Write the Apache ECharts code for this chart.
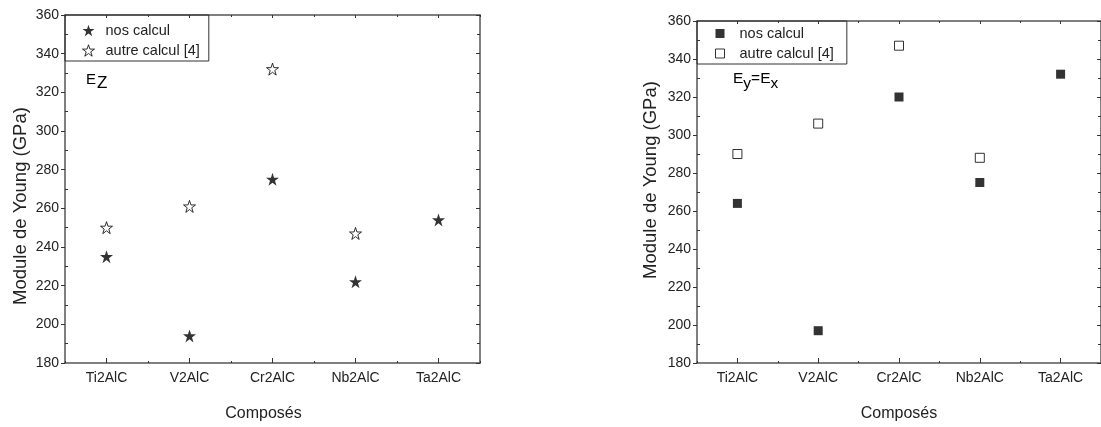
<!DOCTYPE html>
<html>
<head>
<meta charset="utf-8">
<title>Module de Young</title>
<script src="https://cdn.jsdelivr.net/npm/echarts@6/dist/echarts.min.js"></script>
<style>
  html, body { margin: 0; padding: 0; background: #fff; }
  #chart { width: 1101px; height: 427px; }
</style>
</head>
<body>
<div id="chart"></div>
<script>
// composés
const categories = ['Ti2AlC', 'V2AlC', 'Cr2AlC', 'Nb2AlC', 'Ta2AlC'];
// E_Z (GPa)
const ezNos = [235, 194, 275, 222, 254];
const ezAutre = [250, 261, 332, 247, null];
// E_y = E_x (GPa)
const eyNos = [264, 197, 320, 275, 332];
const eyAutre = [290, 306, 347, 288, null];
// axe y
const yMin = 180;
const yMax = 360;
const yStep = 20;

const FONT = 'Liberation Sans, Arial, sans-serif';
const AXIS = '#555';
const STAR = 'path://M12,0 L14.9,8.6 L24,8.6 L16.6,14 L19.4,22.8 L12,17.4 L4.6,22.8 L7.4,14 L0,8.6 L9.1,8.6 Z';

function xAxes(g, namePad) {
  const base = { type: 'category', data: categories, gridIndex: g, boundaryGap: true, splitLine: { show: false } };
  return [
    Object.assign({}, base, {
      position: 'bottom',
      name: 'Composés',
      nameLocation: 'middle',
      nameGap: 43,
      nameTextStyle: { fontFamily: FONT, fontSize: 16, color: '#222', padding: namePad },
      axisLine: { show: true, lineStyle: { color: AXIS, width: 1.5 } },
      axisTick: { show: true, alignWithLabel: true, inside: true, length: 5, lineStyle: { color: '#333' } },
      axisLabel: { fontFamily: FONT, fontSize: 14, color: '#222', margin: 8 }
    }),
    Object.assign({}, base, {
      position: 'bottom',
      axisLine: { show: false },
      axisTick: { show: true, inside: true, length: 2, lineStyle: { color: '#333' } },
      axisLabel: { show: false }
    }),
    Object.assign({}, base, {
      position: 'top',
      axisLine: { show: true, lineStyle: { color: AXIS, width: 1.5 } },
      axisTick: { show: true, alignWithLabel: true, inside: true, length: 3, lineStyle: { color: '#333' } },
      axisLabel: { show: false }
    }),
    Object.assign({}, base, {
      position: 'top',
      axisLine: { show: false },
      axisTick: { show: true, inside: true, length: 2, lineStyle: { color: '#333' } },
      axisLabel: { show: false }
    })
  ];
}

function yAxes(g, gap, namePad) {
  const base = { type: 'value', gridIndex: g, min: yMin, max: yMax, interval: yStep, splitLine: { show: false } };
  return [
    Object.assign({}, base, {
      position: 'left',
      name: 'Module de Young (GPa)',
      nameLocation: 'middle',
      nameGap: gap,
      nameTextStyle: { fontFamily: FONT, fontSize: 18.5, color: '#222', padding: namePad },
      axisLine: { show: true, lineStyle: { color: AXIS, width: 1.5 } },
      axisTick: { show: true, inside: false, length: 4, lineStyle: { color: '#333' } },
      axisLabel: { fontFamily: FONT, fontSize: 14, color: '#222', margin: 6 }
    }),
    Object.assign({}, base, {
      position: 'left',
      axisLine: { show: false },
      axisTick: { show: false, inside: true },
      minorTick: { show: true, splitNumber: 2, length: 3, lineStyle: { color: '#333' } },
      axisLabel: { show: false }
    }),
    Object.assign({}, base, {
      position: 'right',
      axisLine: { show: true, lineStyle: { color: AXIS, width: 1.5 } },
      axisTick: { show: true, inside: true, length: 4, lineStyle: { color: '#333' } },
      minorTick: { show: true, splitNumber: 2, length: 3, lineStyle: { color: '#333' } },
      axisLabel: { show: false }
    })
  ];
}

function legend(names, left, top, icon, pad, textPad) {
  return {
    data: names,
    orient: 'vertical',
    left: left,
    top: top,
    itemWidth: icon,
    itemHeight: icon,
    itemGap: 5,
    padding: pad,
    borderColor: '#333',
    borderWidth: 1,
    borderRadius: 0,
    itemStyle: { borderWidth: 1 },
    textStyle: { fontFamily: FONT, fontSize: 14.5, color: '#222', padding: [0, 0, 0, textPad] }
  };
}

const chart = echarts.init(document.getElementById('chart'));
chart.setOption({
  animation: false,
  backgroundColor: '#fff',
  grid: [
    { left: 65, top: 15, width: 415, height: 354 },
    { left: 697, top: 21, width: 415, height: 349 }
  ],
  xAxis: xAxes(0, [0, 18, 0, 0]).concat(xAxes(1, 0)),
  yAxis: yAxes(0, 35, [0, 34, 0, 0]).concat(yAxes(1, 37, [0, 0, 0, 24])),
  legend: [
    legend(['nos calcul', 'autre calcul [4]'], 65, 15, 12, [8, 9, 3, 17], 6),
    legend(['nos calcul ', 'autre calcul [4] '], 697, 21, 9, [5, 9, 3, 18], 10)
  ],
  graphic: [
    {
      type: 'text', left: 86, top: 72,
      style: {
        text: '{n|E}{s|Z}',
        rich: {
          n: { fontFamily: FONT, fontSize: 15, color: '#222', padding: [0, 1, 5, 0], verticalAlign: 'bottom' },
          s: { fontFamily: FONT, fontSize: 17, color: '#222', verticalAlign: 'bottom' }
        }
      }
    },
    {
      type: 'text', left: 733, top: 71,
      style: {
        text: '{n|E}{s|y}{n|=E}{s|x}',
        rich: {
          n: { fontFamily: FONT, fontSize: 15.5, color: '#222', padding: [0, 0, 5, 0], verticalAlign: 'bottom' },
          s: { fontFamily: FONT, fontSize: 15.5, color: '#222', verticalAlign: 'bottom' }
        }
      }
    }
  ],
  series: [
    {
      name: 'nos calcul', type: 'scatter', xAxisIndex: 0, yAxisIndex: 0,
      symbol: STAR, symbolSize: 13,
      itemStyle: { color: '#000' },
      data: ezNos
    },
    {
      name: 'autre calcul [4]', type: 'scatter', xAxisIndex: 0, yAxisIndex: 0,
      symbol: STAR, symbolSize: 12,
      itemStyle: { color: '#fff', borderColor: '#000', borderWidth: 1 },
      data: ezAutre
    },
    {
      name: 'nos calcul ', type: 'scatter', xAxisIndex: 4, yAxisIndex: 3,
      symbol: 'rect', symbolSize: 9,
      itemStyle: { color: '#000' },
      data: eyNos
    },
    {
      name: 'autre calcul [4] ', type: 'scatter', xAxisIndex: 4, yAxisIndex: 3,
      symbol: 'rect', symbolSize: 9,
      itemStyle: { color: '#fff', borderColor: '#000', borderWidth: 1 },
      data: eyAutre
    }
  ]
});
</script>
</body>
</html>
